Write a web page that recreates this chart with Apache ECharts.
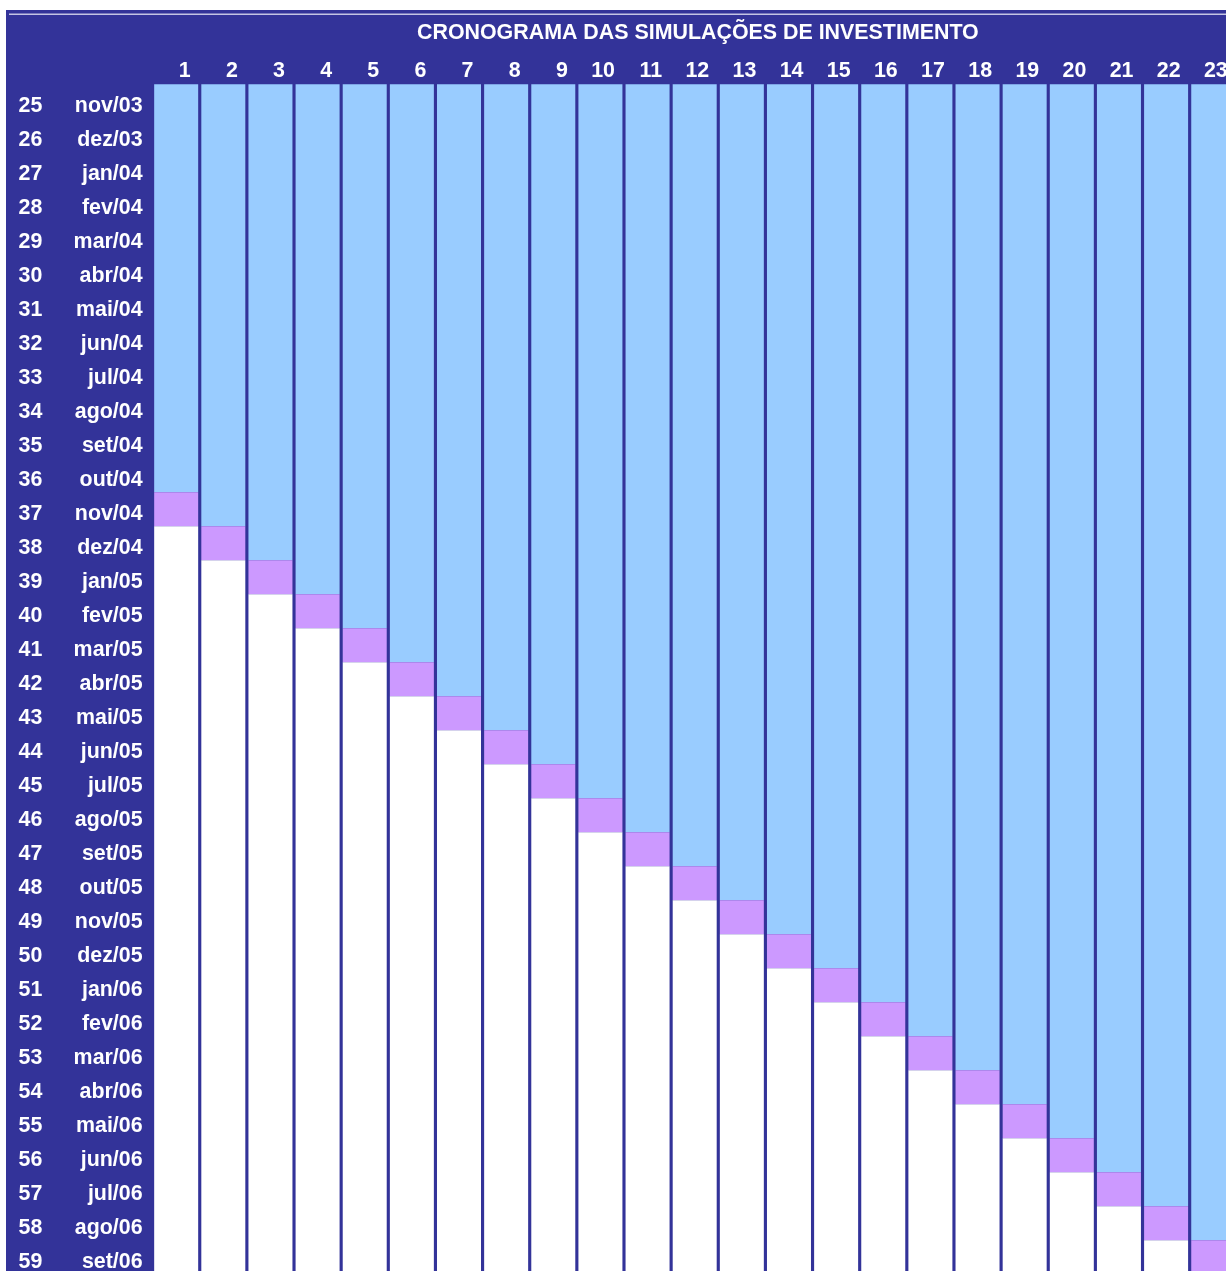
<!DOCTYPE html>
<html><head><meta charset="utf-8">
<script src="https://cdn.jsdelivr.net/npm/echarts@6/dist/echarts.min.js"></script>
<style>
html,body{margin:0;padding:0;overflow:hidden;background:#fff;width:1226px;height:1271px;position:relative}
#c{position:absolute;left:6px;top:10px;width:1234px;height:1270px}
</style>
</head><body><div id="c"></div>
<script>
const title = 'CRONOGRAMA DAS SIMULAÇÕES DE INVESTIMENTO';
const simulations = ['1','2','3','4','5','6','7','8','9','10','11','12','13','14','15','16','17','18','19','20','21','22','23'];
const rowNumbers = [25,26,27,28,29,30,31,32,33,34,35,36,37,38,39,40,41,42,43,44,45,46,47,48,49,50,51,52,53,54,55,56,57,58,59];
const months = ['nov/03','dez/03','jan/04','fev/04','mar/04','abr/04','mai/04','jun/04','jul/04','ago/04','set/04','out/04',
  'nov/04','dez/04','jan/05','fev/05','mar/05','abr/05','mai/05','jun/05','jul/05','ago/05','set/05','out/05',
  'nov/05','dez/05','jan/06','fev/06','mar/06','abr/06','mai/06','jun/06','jul/06','ago/06','set/06'];
// row where each simulation is marked (purple cell)
const markRows = [37,38,39,40,41,42,43,44,45,46,47,48,49,50,51,52,53,54,55,56,57,58,59];

const firstRow = rowNumbers[0];
const totalRows = rowNumbers.length;
const blueData = markRows.map(r => r - firstRow);
const purpleData = markRows.map(() => 1);
const whiteData = markRows.map(r => totalRows - (r - firstRow) - 1);

const FONT = 'Liberation Sans, Arial, sans-serif';
const FS = 21.4;
const DARK = '#333399', BLUE = '#99CCFF', PURPLE = '#CC99FF';

const chart = echarts.init(document.getElementById('c'));
chart.setOption({
  backgroundColor: DARK,
  animation: false,
  title: {
    text: title, left: 411, top: 13, padding: 0,
    textStyle: {color: '#fff', fontSize: FS, fontWeight: 'bold', fontFamily: FONT}
  },
  graphic: [{type: 'line', shape: {x1: 3, y1: 4.2, x2: 1234, y2: 4.2}, style: {stroke: '#c4c4e4', lineWidth: 1.5}, silent: true}],
  grid: {left: 146.6, top: 74.3, width: 1084.2, height: 1190},
  xAxis: {
    type: 'category', position: 'top', data: simulations,
    axisLine: {show: false}, axisTick: {show: false}, splitLine: {show: false},
    axisLabel: {
      margin: 3, interval: 0,
      formatter: v => '{a|' + v + '}',
      rich: {a: {width: 29, align: 'right', color: '#fff', fontSize: FS, fontWeight: 'bold', fontFamily: FONT}}
    }
  },
  yAxis: [{
    type: 'value', min: 0, max: totalRows, inverse: true, show: false, splitLine: {show: false}
  }, {
    type: 'category', data: rowNumbers.map(String), inverse: true, position: 'left',
    axisLine: {show: false}, axisTick: {show: false}, splitLine: {show: false},
    axisLabel: {
      margin: 10, interval: 0,
      formatter: (v, i) => '{n|' + rowNumbers[i] + '}{m|' + months[i] + '}',
      rich: {
        n: {width: 40, align: 'left', color: '#fff', fontSize: FS, fontWeight: 'bold', fontFamily: FONT, padding: [9, 0, 0, 0]},
        m: {width: 84, align: 'right', color: '#fff', fontSize: FS, fontWeight: 'bold', fontFamily: FONT, padding: [9, 0, 0, 0]}
      }
    }
  }],
  series: [
    {type: 'bar', stack: 'col', data: blueData, barWidth: 44, itemStyle: {color: BLUE}, yAxisIndex: 0},
    {type: 'bar', stack: 'col', data: purpleData, barWidth: 44, itemStyle: {color: PURPLE}, yAxisIndex: 0},
    {type: 'bar', stack: 'col', data: whiteData, barWidth: 44, itemStyle: {color: '#ffffff'}, yAxisIndex: 0}
  ]
});
</script>
</body></html>
